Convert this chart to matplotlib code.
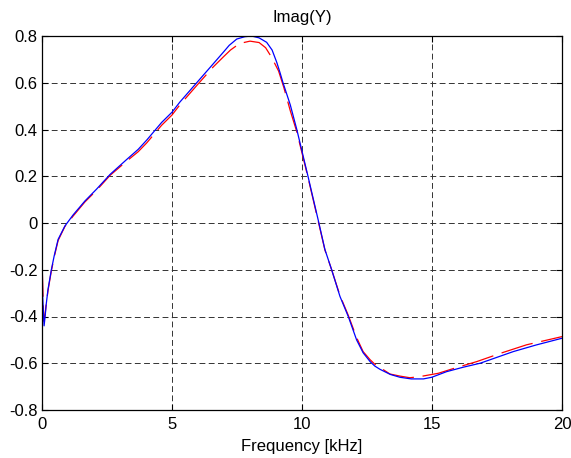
import numpy as np
import matplotlib
matplotlib.use('Agg')
import matplotlib.pyplot as plt
from matplotlib import rcParams

# ---------------------- style (MATLAB-like) ----------------------
rcParams['font.family'] = ['Liberation Sans', 'DejaVu Sans']
rcParams['font.size'] = 12
rcParams['axes.linewidth'] = 0.9

# ---------------------- data ----------------------
freq_model = [0, 0.02, 0.08, 0.12, 0.16, 0.23, 0.36, 0.47, 0.62, 0.88, 1.2, 1.65,
              2.1, 2.62, 3.26, 3.7, 4.03, 4.6, 5.0, 5.3, 5.95, 6.5, 6.97, 7.2, 7.49,
              7.8, 8.06, 8.35, 8.64, 8.85, 9.03, 9.15, 9.27, 9.55, 9.8, 10.23,
              10.65, 10.88, 11.14, 11.46, 11.78, 12.1, 12.35, 12.62, 12.8, 13.0,
              13.4, 13.77, 14.2, 14.67, 14.99, 15.56, 16.2, 16.85, 18.13, 19.0, 20.0]
imag_model = [0.0, -0.3, -0.44, -0.4, -0.35, -0.285, -0.2, -0.14, -0.07, -0.013,
              0.035, 0.094, 0.145, 0.208, 0.272, 0.315, 0.355, 0.43, 0.474, 0.517, 0.60,
              0.67, 0.73, 0.76, 0.787, 0.797, 0.80, 0.792, 0.773, 0.74, 0.687,
              0.645, 0.60, 0.505, 0.40, 0.20, 0.0, -0.113, -0.2, -0.314, -0.4,
              -0.5, -0.555, -0.593, -0.612, -0.626, -0.648, -0.66, -0.667, -0.667,
              -0.66, -0.636, -0.617, -0.6, -0.55, -0.522, -0.493]

freq_meas = [0, 0.01, 0.07, 0.12, 0.16, 0.23, 0.36, 0.47, 0.62, 0.88, 1.2, 1.65,
             2.1, 2.62, 3.26, 3.7, 4.03, 4.6, 5.0, 5.3, 5.95, 6.58, 6.97, 7.25, 7.6,
             8.0, 8.35, 8.6, 8.83, 9.1, 9.3, 9.55, 9.8, 10.23, 10.65, 10.88, 11.14,
             11.46, 11.78, 12.1, 12.35, 12.62, 12.8, 13.0, 13.38, 13.77, 14.15,
             14.54, 15.24, 15.9, 16.72, 17.7, 18.64, 20.0]
imag_meas = [0.0, -0.2, -0.42, -0.39, -0.35, -0.29, -0.205, -0.145, -0.075, -0.015,
             0.03, 0.09, 0.14, 0.204, 0.265, 0.305, 0.343, 0.418, 0.462, 0.505, 0.588,
             0.667, 0.71, 0.74, 0.768, 0.778, 0.772, 0.75, 0.709, 0.65, 0.58,
             0.48, 0.39, 0.195, -0.005, -0.115, -0.2, -0.31, -0.395, -0.49, -0.55,
             -0.585, -0.604, -0.618, -0.646, -0.655, -0.662, -0.657, -0.643, -0.62,
             -0.593, -0.555, -0.521, -0.486]

x_ticks = [0, 5, 10, 15, 20]
y_ticks = [-0.8, -0.6, -0.4, -0.2, 0, 0.2, 0.4, 0.6, 0.8]
y_tick_labels = ['-0.8', '-0.6', '-0.4', '-0.2', '0', '0.2', '0.4', '0.6', '0.8']

# ---------------------- plot ----------------------
fig = plt.figure(figsize=(5.71, 4.58), dpi=100)
ax = fig.add_axes([42 / 571, 48 / 458, 520 / 571, 374 / 458])

ax.plot(freq_meas, imag_meas, color='red', linewidth=0.9, dashes=(26, 7))
ax.plot(freq_model, imag_model, color='blue', linewidth=0.9)

ax.set_xlim(0, 20)
ax.set_ylim(-0.8, 0.8)
ax.set_xticks(x_ticks)
ax.set_xticklabels([str(t) for t in x_ticks])
ax.set_yticks(y_ticks)
ax.set_yticklabels(y_tick_labels)

ax.grid(True, color='0.2', linestyle=(0, (6, 3.5)), linewidth=0.7)
ax.tick_params(direction='in', length=4, width=0.8, top=True, right=True,
               labelsize=12, colors='black')
ax.tick_params(axis='x', pad=5)
ax.tick_params(axis='y', pad=3)
for s in ax.spines.values():
    s.set_zorder(5)

ax.set_title('Imag(Y)', fontsize=12, pad=10)
ax.set_xlabel('Frequency [kHz]', fontsize=12, labelpad=5)

plt.savefig('out.png', dpi=100)
plt.close()
